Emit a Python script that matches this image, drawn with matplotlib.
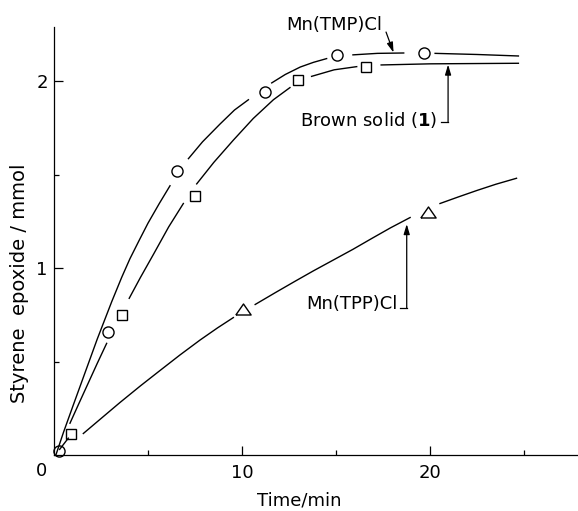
import numpy as np
import matplotlib
matplotlib.use("Agg")
import matplotlib.pyplot as plt

nan = np.nan

# ---- data ----
# Measured points
tmp_t = [0.27, 2.87, 6.54, 11.2, 15.05, 19.7]
tmp_y = [0.02, 0.66, 1.52, 1.94, 2.14, 2.15]

brown_t = [0.9, 3.6, 7.5, 13.0, 16.6]
brown_y = [0.11, 0.75, 1.385, 2.005, 2.075]

tpp_t = [10.05, 19.9]
tpp_y = [0.78, 1.30]

# Drawn (fitted) curves, with the gaps left around the symbols
tmp_curve_t = [0.1, 0.5, 1.0, 1.65, 2.3, 3.07, 3.6, 4.04, 4.54, 5.0, 5.6, 6.17, nan,
               7.15, 7.9, 8.83, 9.6, 10.34, nan,
               11.58, 12.3, 13.1, 13.8, 14.5, nan,
               15.9, 17.2, 18.6, nan,
               20.27, 22.5, 24.7]
tmp_curve_y = [0.0, 0.12, 0.26, 0.44, 0.62, 0.82, 0.95, 1.05, 1.15, 1.24, 1.345, 1.44, nan,
               1.585, 1.675, 1.77, 1.845, 1.90, nan,
               1.99, 2.035, 2.075, 2.10, 2.12, nan,
               2.14, 2.148, 2.15, nan,
               2.148, 2.142, 2.134]

brown_curve_t = [0.3, 0.76, nan,
                 0.85, 1.3, 1.8, 2.3, 2.8, nan,
                 4.0, 4.6, 5.3, 6.1, 6.88, nan,
                 7.59, 8.5, 9.54, 10.6, 11.67, 12.55, nan,
                 13.7, 14.9, 16.1, nan,
                 17.4, 20.0, 24.7]
brown_curve_y = [0.03, 0.09, nan,
                 0.17, 0.27, 0.38, 0.49, 0.597, nan,
                 0.838, 0.95, 1.075, 1.22, 1.345, nan,
                 1.45, 1.565, 1.684, 1.80, 1.90, 1.965, nan,
                 2.025, 2.06, 2.077, nan,
                 2.086, 2.092, 2.095]

tpp_curve_t = [1.56, 2.5, 3.5, 4.6, 5.64, 6.7, 7.77, 8.7, 9.54, nan,
               10.7, 11.8, 12.8, 13.8, 14.86, 15.9, 16.9, 17.9, 18.94, nan,
               20.53, 21.5, 22.5, 23.5, 24.6]
tpp_curve_y = [0.115, 0.195, 0.28, 0.37, 0.452, 0.535, 0.615, 0.68, 0.735, nan,
               0.805, 0.87, 0.928, 0.985, 1.043, 1.10, 1.158, 1.215, 1.27, nan,
               1.345, 1.38, 1.415, 1.448, 1.48]

x_major = [10, 20]
x_minor = [5, 15, 25]
y_major = [1, 2]
y_minor = [0.5, 1.5]

label_tmp = "Mn(TMP)Cl"
label_brown = r"Brown solid ($\mathbf{1}$)"
label_tpp = "Mn(TPP)Cl"

# ---- figure ----
plt.rcParams['font.family'] = ['DejaVu Sans']
fig = plt.figure(figsize=(5.78, 5.11), dpi=100)
ax = fig.add_axes([54 / 578, 56 / 511, 524 / 578, 428 / 511])
ax.set_xlim(0, 27.87)
ax.set_ylim(0, 2.289)

lw = 1.0
ax.plot(tmp_curve_t, tmp_curve_y, color='black', lw=lw, solid_joinstyle='round')
ax.plot(brown_curve_t, brown_curve_y, color='black', lw=lw, solid_joinstyle='round')
ax.plot(tpp_curve_t, tpp_curve_y, color='black', lw=lw, solid_joinstyle='round')

ax.plot(tmp_t, tmp_y, ls='none', marker='o', ms=8, mfc='none', mec='black', mew=1.0, clip_on=False)
ax.plot(brown_t, brown_y, ls='none', marker='s', ms=7, mfc='none', mec='black', mew=1.0, clip_on=False)
tri = [(-1, -0.72), (1, -0.72), (0, 0.72), (-1, -0.72)]
ax.plot(tpp_t, tpp_y, ls='none', marker=tri, ms=11, mfc='none', mec='black', mew=1.0, clip_on=False)

# spines and ticks
for s in ['top', 'right']:
    ax.spines[s].set_visible(False)
for s in ['left', 'bottom']:
    ax.spines[s].set_linewidth(0.9)
ax.set_xticks(x_major)
ax.set_xticks(x_minor, minor=True)
ax.set_yticks(y_major)
ax.set_yticks(y_minor, minor=True)
ax.tick_params(which='both', direction='in', width=0.9, labelsize=13)
ax.tick_params(which='major', length=6.5)
ax.tick_params(which='minor', length=3.6)
ax.tick_params(axis='x', pad=6.5)
ax.tick_params(axis='y', pad=4.5)

ax.text(-0.65, -0.086, "0", fontsize=13, ha='center', va='center', clip_on=False)

ax.set_xlabel("Time/min", fontsize=13, va='center')
ax.xaxis.set_label_coords((299 - 54) / 524, (455 - 500) / 428)
ax.set_ylabel("Styrene  epoxide / mmol", fontsize=14, va='center')
ax.yaxis.set_label_coords((20 - 54) / 524, (455 - 283) / 428)

arrow_kw = dict(arrowstyle='-|>,head_length=0.6,head_width=0.18', color='black',
                lw=0.9, shrinkA=0, shrinkB=0, mutation_scale=10)

# Mn(TMP)Cl label
ax.text(17.45, 2.30, label_tmp, fontsize=13, ha='right', va='center', clip_on=False)
ax.annotate('', xy=(18.06, 2.152), xytext=(17.66, 2.262), arrowprops=arrow_kw,
            annotation_clip=False)

# Brown solid label with bracket
ax.text(20.37, 1.79, label_brown, fontsize=13, ha='right', va='center')
ax.plot([20.59, 20.96], [1.78, 1.78], color='black', lw=0.9)
ax.annotate('', xy=(20.96, 2.088), xytext=(20.96, 1.78), arrowprops=arrow_kw)

# Mn(TPP)Cl label with bracket
ax.text(18.3, 0.807, label_tpp, fontsize=13, ha='right', va='center')
ax.plot([18.42, 18.76], [0.786, 0.786], color='black', lw=0.9)
ax.annotate('', xy=(18.76, 1.235), xytext=(18.76, 0.786), arrowprops=arrow_kw)

fig.savefig("out.png", dpi=100)
